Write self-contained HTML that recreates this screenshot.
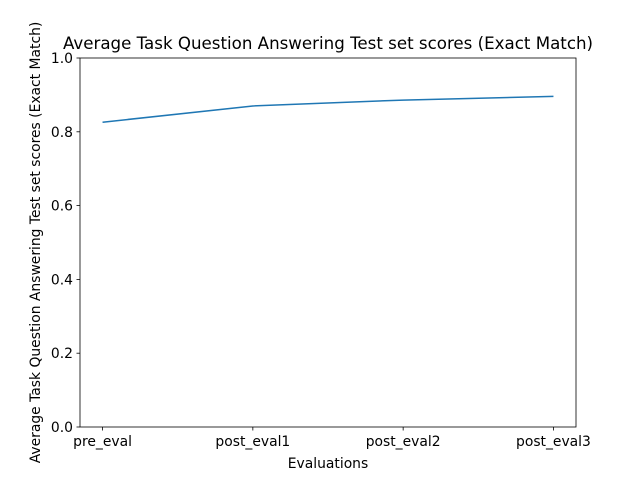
<!DOCTYPE html>
<html><head><meta charset="utf-8"><style>
body{margin:0;background:#fff;}
svg{display:block;font-family:"DejaVu Sans","Liberation Sans",sans-serif;}
</style></head><body>
<svg id="chart" width="640" height="480">
<rect width="640" height="480" fill="#fff"/>
<text x="328" y="49" font-size="16.67" text-anchor="middle">Average Task Question Answering Test set scores (Exact Match)</text>
<text x="328" y="468" font-size="13.89" text-anchor="middle">Evaluations</text>
<text transform="translate(40,242.5) rotate(-90)" font-size="13.89" text-anchor="middle">Average Task Question Answering Test set scores (Exact Match)</text>
<g id="ticks"></g>
<path id="line" fill="none" stroke="#1f77b4" stroke-width="1.5"/>
<rect x="80" y="58" width="496" height="369" fill="none" stroke="#000" stroke-width="0.8"/>
</svg>
<script>
const categories = ["pre_eval","post_eval1","post_eval2","post_eval3"];
const scores = [0.826, 0.870, 0.886, 0.896];
const yTicks = [0, 0.2, 0.4, 0.6, 0.8, 1.0];
const yTickLabels = ["0.0","0.2","0.4","0.6","0.8","1.0"];
const L=80,R=576,T=58,B=427;
const n=categories.length, span=(n-1)*1.1, xmin=-(n-1)*0.05;
function xs(i){return L+(i-xmin)/span*(R-L);}
function ys(v){return B-(v-0)/(1-0)*(B-T);}
const ns="http://www.w3.org/2000/svg", g=document.getElementById('ticks');
function mk(tag,attrs,text){const e=document.createElementNS(ns,tag);for(const k in attrs)e.setAttribute(k,attrs[k]);if(text!==undefined)e.textContent=text;g.appendChild(e);return e;}
categories.forEach((c,i)=>{
  const x=xs(i);
  const t=mk('line',{x1:x,x2:x,y1:B,y2:B+3.5,stroke:'#000','stroke-width':0.8});
  
  
  const l=mk('text',{x:x,y:B+19,'font-size':13.89,'text-anchor':'middle'},c);
  
  
});
yTicks.forEach((v,i)=>{
  const y=ys(v);
  const t=mk('line',{x1:L-3.5,x2:L,y1:y,y2:y,stroke:'#000','stroke-width':0.8});
  
  
  const l=mk('text',{x:L-7,y:y+5,'font-size':13.89,'text-anchor':'end'},yTickLabels[i]);
  
  
});
document.getElementById('line').setAttribute('d',scores.map((v,i)=>(i?'L':'M')+xs(i)+','+ys(v)).join(' '));
</script>
</body></html>
